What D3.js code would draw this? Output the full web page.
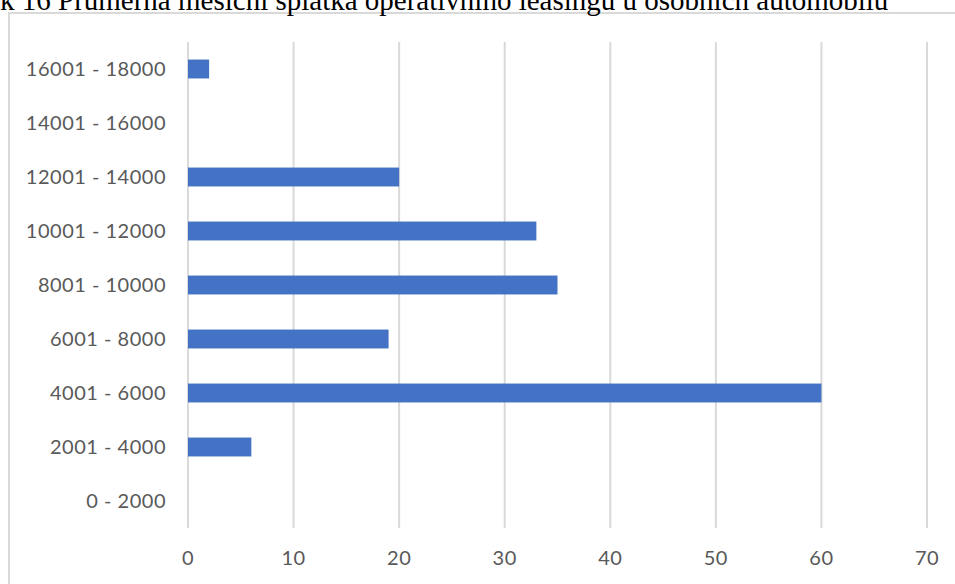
<!DOCTYPE html>
<html>
<head>
<meta charset="utf-8">
<script src="https://cdn.jsdelivr.net/npm/d3@7"></script>
<style>
  body { margin: 0; background: #fff; overflow: hidden; }
</style>
</head>
<body>
<script>
// categories bottom -> top as in the picture
var categories = ["0 - 2000", "2001 - 4000", "4001 - 6000", "6001 - 8000", "8001 - 10000",
                  "10001 - 12000", "12001 - 14000", "14001 - 16000", "16001 - 18000"];
var counts = [0, 6, 60, 19, 35, 33, 20, 0, 2];
var xTicks = [0, 10, 20, 30, 40, 50, 60, 70];
var title = "k 16 Průměrná měsíční splátka operativního leasingu u osobních automobilů";

var svg = d3.select("body").append("svg")
    .attr("width", 955)
    .attr("height", 584);

// chart frame (cut off at right and bottom)
svg.append("rect")
    .attr("x", 9)
    .attr("y", 13)
    .attr("width", 980)
    .attr("height", 620)
    .attr("fill", "#fff")
    .attr("stroke", "#d9d9d9")
    .attr("stroke-width", 2);

// title, only the lower half shows
svg.append("text")
    .attr("x", 0)
    .attr("y", 10)
    .attr("font-family", "Liberation Serif, Times New Roman, serif")
    .attr("font-size", "29px")
    .attr("fill", "#000")
    .text(title);

var x = d3.scaleLinear()
    .domain([0, 70])
    .range([188, 927]);

var y = d3.scaleBand()
    .domain(categories.slice().reverse())
    .range([42, 528])
    .paddingInner(0.65)
    .paddingOuter(0.325);

// gridlines
svg.selectAll(".grid")
    .data(xTicks)
    .enter()
    .append("line")
    .attr("class", "grid")
    .attr("x1", function(d) { return x(d); })
    .attr("x2", function(d) { return x(d); })
    .attr("y1", 42)
    .attr("y2", 528)
    .style("stroke", "#d9d9d9")
    .style("stroke-width", 2);

// bars
svg.selectAll(".bar")
    .data(categories)
    .enter()
    .append("rect")
    .attr("class", "bar")
    .attr("x", x(0))
    .attr("y", function(d) { return y(d); })
    .attr("width", function(d, i) { return x(counts[i]) - x(0); })
    .attr("height", y.bandwidth())
    .style("fill", "#4472c4");

// category labels
svg.selectAll(".cat")
    .data(categories)
    .enter()
    .append("text")
    .attr("class", "cat")
    .attr("x", 166)
    .attr("y", function(d) { return y(d) + y.bandwidth() / 2; })
    .attr("dy", "0.35em")
    .attr("text-anchor", "end")
    .attr("font-family", "Lato, Open Sans, sans-serif")
    .attr("font-size", "20px")
    .attr("letter-spacing", "0.5px")
    .attr("fill", "#595959")
    .text(function(d) { return d; });

// value axis labels
svg.selectAll(".tick-label")
    .data(xTicks)
    .enter()
    .append("text")
    .attr("class", "tick-label")
    .attr("x", function(d) { return x(d); })
    .attr("y", 558)
    .attr("dy", "0.35em")
    .attr("text-anchor", "middle")
    .attr("font-family", "Lato, Open Sans, sans-serif")
    .attr("font-size", "20px")
    .attr("letter-spacing", "0.5px")
    .attr("fill", "#595959")
    .text(function(d) { return d; });
</script>
</body>
</html>
